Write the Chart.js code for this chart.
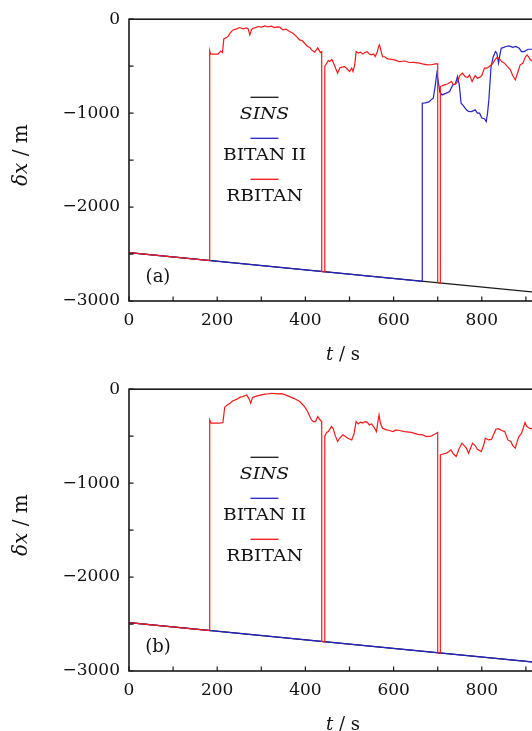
<!DOCTYPE html>
<html><head><meta charset="utf-8">
<script src="https://cdn.jsdelivr.net/npm/chart.js@4.4.1/dist/chart.umd.min.js"></script>
<style>
html,body{margin:0;padding:0;background:#fff;overflow:hidden;width:532px;height:731px;}
.wrap{position:absolute;left:0;width:640px;height:370px;}
canvas{display:block;}
</style></head><body>
<div class="wrap" style="top:0"><canvas id="ca" width="640" height="370" style="width:640px;height:370px"></canvas></div>
<div class="wrap" style="top:370px"><canvas id="cb" width="640" height="370" style="width:640px;height:370px"></canvas></div>
<script>
// ---------- data ----------
const seriesLabels = ['SINS', 'BITAN II', 'RBITAN'];
const xTickValues = [0, 200, 400, 600, 800, 1000];
const yTickValues = [-3000, -2000, -1000, 0];

// SINS drift (same in both panels)
const sinsT = [0, 1000];
const sinsV = [-2486, -2943];

// panel (a) BITAN II
const bitanA_T = [0,665,665,672,680,685,690,694,698,701,705,710,718,727,734,740,745,749,753,758,765,770,777,785,790,795,800,806,810,813,816,821,826,831,834,838,841,844,850,855,862,870,877,885,890,896,905,916,950,1000];
const bitanA_V = [-2486,-2790,-894,-890,-880,-859,-840,-720,-575,-650,-780,-806,-790,-770,-700,-690,-610,-700,-894,-920,-965,-982,-983,-965,-1000,-1000,-1053,-1060,-1090,-1000,-859,-504,-400,-345,-360,-468,-380,-309,-300,-291,-284,-300,-290,-310,-345,-345,-320,-320,-330,-300];

// panel (a) RBITAN
const rbitanA_T = [0,183,183,185,202,208,212,215,221,225,229,236,244,251,259,266,270,274,278,281,287,293,300,308,315,323,330,336,342,349,356,364,372,380,387,393,398,405,410,414,421,428,434,437,437,444,444,447,452,455,460,465,470,473,478,483,489,495,500,505,508,512,515,520,525,530,535,540,545,550,555,558,563,566,568,571,575,580,585,591,600,613,625,636,645,659,665,677,685,695,700,700,706,706,715,722,731,736,740,745,750,756,762,768,772,778,785,790,795,800,806,812,817,825,830,835,840,845,852,858,865,870,876,882,887,893,899,903,910,916,930,950,970,1000];
const rbitanA_V = [-2486,-2570,-337,-372,-372,-340,-355,-210,-196,-180,-149,-114,-103,-89,-103,-92,-100,-167,-110,-96,-90,-78,-85,-71,-82,-75,-90,-82,-85,-114,-105,-131,-150,-185,-220,-230,-256,-291,-300,-327,-350,-305,-355,-345,-2686,-2689,-500,-480,-440,-451,-430,-480,-540,-575,-520,-510,-504,-530,-557,-521,-557,-480,-345,-360,-350,-370,-355,-345,-370,-380,-370,-398,-350,-290,-273,-330,-398,-400,-420,-426,-430,-451,-445,-461,-460,-468,-475,-486,-485,-476,-476,-2806,-2809,-717,-699,-690,-664,-699,-690,-664,-600,-575,-610,-620,-593,-664,-600,-628,-620,-600,-521,-521,-504,-470,-430,-405,-420,-451,-470,-504,-540,-600,-646,-560,-486,-470,-400,-380,-430,-451,-420,-440,-400,-420];

// panel (b) BITAN II
const bitanB_T = [0, 1000];
const bitanB_V = [-2486, -2943];

// panel (b) RBITAN
const rbitanB_T = [0,183,183,186,205,213,217,222,229,235,245,252,258,267,272,276,280,285,295,308,316,324,335,346,355,364,375,387,393,398,405,410,414,418,423,428,432,437,437,444,444,448,452,459,463,468,473,478,485,490,495,500,505,510,515,520,525,530,535,540,545,550,555,561,564,567,570,575,582,590,599,605,613,625,640,655,666,675,685,693,700,700,706,706,712,720,726,730,736,742,748,755,760,765,770,775,779,785,790,799,804,808,815,822,828,832,838,845,852,859,866,870,876,880,884,890,895,898,902,910,916,940,970,1000];
const rbitanB_V = [-2486,-2570,-327,-362,-362,-355,-192,-170,-149,-125,-106,-85,-79,-61,-100,-149,-90,-79,-65,-53,-50,-43,-50,-48,-60,-79,-100,-132,-160,-185,-238,-290,-327,-345,-345,-291,-320,-345,-2686,-2689,-500,-460,-451,-398,-420,-500,-557,-520,-486,-500,-520,-530,-540,-480,-345,-370,-350,-360,-345,-350,-380,-370,-400,-451,-360,-273,-360,-415,-430,-440,-451,-433,-440,-451,-460,-480,-486,-504,-500,-480,-461,-2806,-2809,-699,-690,-681,-660,-646,-690,-717,-640,-575,-600,-628,-681,-620,-575,-600,-640,-664,-600,-522,-540,-535,-470,-426,-420,-440,-451,-540,-557,-600,-628,-560,-504,-470,-400,-355,-398,-420,-420,-380,-420,-400];

// ---------- helpers ----------
function zip(t, v) {
  if (t.length !== v.length) throw new Error('length mismatch ' + t.length + ' vs ' + v.length);
  return t.map((x, i) => ({x: x, y: v[i]}));
}
const COLORS = ['rgb(25,25,25)', 'rgb(35,35,200)', 'rgb(245,25,25)'];
const SERIF = '"DejaVu Serif", serif';
const MINUS = '\u2212';

function drawMixed(ctx, parts, cx, cy, size) {
  let w = 0;
  parts.forEach(p => { ctx.font = (p.i ? 'italic ' : '') + size + 'px ' + SERIF; p.w = ctx.measureText(p.t).width; w += p.w; });
  let x = cx - w / 2;
  ctx.textBaseline = 'middle';
  ctx.textAlign = 'left';
  parts.forEach(p => { ctx.font = (p.i ? 'italic ' : '') + size + 'px ' + SERIF; ctx.fillText(p.t, x, cy); x += p.w; });
}

const decor = {
  id: 'decor',
  afterDraw(chart, args, opts) {
    const ctx = chart.ctx, a = chart.chartArea;
    const xs = chart.scales.x, ys = chart.scales.y;
    ctx.save();
    ctx.strokeStyle = '#1a1a1a';
    ctx.lineWidth = 1.6;
    ctx.strokeRect(a.left, a.top, a.right - a.left, a.bottom - a.top);
    ctx.lineWidth = 1.2;
    ctx.beginPath();
    for (let t = 0; t <= 1000; t += 100) {
      const px = xs.getPixelForValue(t);
      ctx.moveTo(px, a.bottom); ctx.lineTo(px, a.bottom - 4.5);
    }
    for (let v = -3000; v <= 0; v += 500) {
      const py = ys.getPixelForValue(v);
      ctx.moveTo(a.left, py); ctx.lineTo(a.left + 4.5, py);
    }
    ctx.stroke();
    ctx.fillStyle = '#111';
    // axis titles
    drawMixed(ctx, [{t:'t', i:true}, {t:' / '}, {t:'s'}], 343, 355, 18);
    ctx.save();
    ctx.translate(22, (a.top + a.bottom) / 2 - 5);
    ctx.rotate(-Math.PI / 2);
    drawMixed(ctx, [{t:'\u03b4x', i:true}, {t:' / '}, {t:'m'}], 0, 0, 20);
    ctx.restore();
    // panel label
    ctx.font = '18px ' + SERIF;
    ctx.textAlign = 'center'; ctx.textBaseline = 'middle';
    ctx.fillText(opts.panel, a.left + 29, a.bottom - 23.5);
    // legend: line sample above each label
    const lx = opts.legendX, ly = opts.legendY;
    chart.data.datasets.forEach((ds, i) => {
      const y = ly + i * 41;
      ctx.strokeStyle = ds.borderColor;
      ctx.lineWidth = 1.3;
      ctx.beginPath(); ctx.moveTo(lx - 14, y); ctx.lineTo(lx + 14, y); ctx.stroke();
      ctx.fillStyle = '#111';
      ctx.font = (ds.label === 'SINS' ? 'italic ' : '') + '17px ' + SERIF;
      ctx.textAlign = 'center'; ctx.textBaseline = 'middle';
      ctx.save();
      ctx.translate(lx, y + 17);
      ctx.scale(1.1, 1);
      ctx.fillText(ds.label, 0, 0);
      ctx.restore();
    });
    ctx.restore();
  }
};

function makeChart(id, bitT, bitV, rbT, rbV, panel, legendY) {
  const datasets = [
    {label: seriesLabels[0], data: zip(sinsT, sinsV), borderColor: COLORS[0], order: 3},
    {label: seriesLabels[1], data: zip(bitT, bitV), borderColor: COLORS[1], order: 2},
    {label: seriesLabels[2], data: zip(rbT, rbV), borderColor: COLORS[2], order: 1}
  ].map(d => Object.assign(d, {borderWidth: 1.2, pointRadius: 0, tension: 0, fill: false}));
  return new Chart(document.getElementById(id), {
    type: 'line',
    data: {datasets},
    options: {
      responsive: false, animation: false, devicePixelRatio: 1,
      layout: {padding: {top: 19, right: 70, left: 0, bottom: 0}},
      plugins: {legend: {display: false}, tooltip: {enabled: false},
        decor: {panel: panel, legendX: 264.5, legendY: legendY}},
      scales: {
        x: {type: 'linear', min: 0, max: 1000,
          afterBuildTicks: s => { s.ticks = xTickValues.map(v => ({value: v})); },
          ticks: {autoSkip: false, maxRotation: 0, color: '#111', padding: 9,
            font: {family: SERIF, size: 17}, callback: v => String(v)},
          grid: {display: false, drawTicks: false}, border: {display: false},
          afterFit: s => { s.height = 69; }},
        y: {type: 'linear', min: -3000, max: 0,
          afterBuildTicks: s => { s.ticks = yTickValues.map(v => ({value: v})); },
          ticks: {color: '#111', padding: 9, font: {family: SERIF, size: 17},
            callback: v => v < 0 ? MINUS + Math.abs(v) : '0'},
          grid: {display: false, drawTicks: false}, border: {display: false},
          afterFit: s => { s.width = 129; }}
      }
    },
    plugins: [decor]
  });
}

makeChart('ca', bitanA_T, bitanA_V, rbitanA_T, rbitanA_V, '(a)', 97.3);
makeChart('cb', bitanB_T, bitanB_V, rbitanB_T, rbitanB_V, '(b)', 87.3);
</script>
</body></html>
